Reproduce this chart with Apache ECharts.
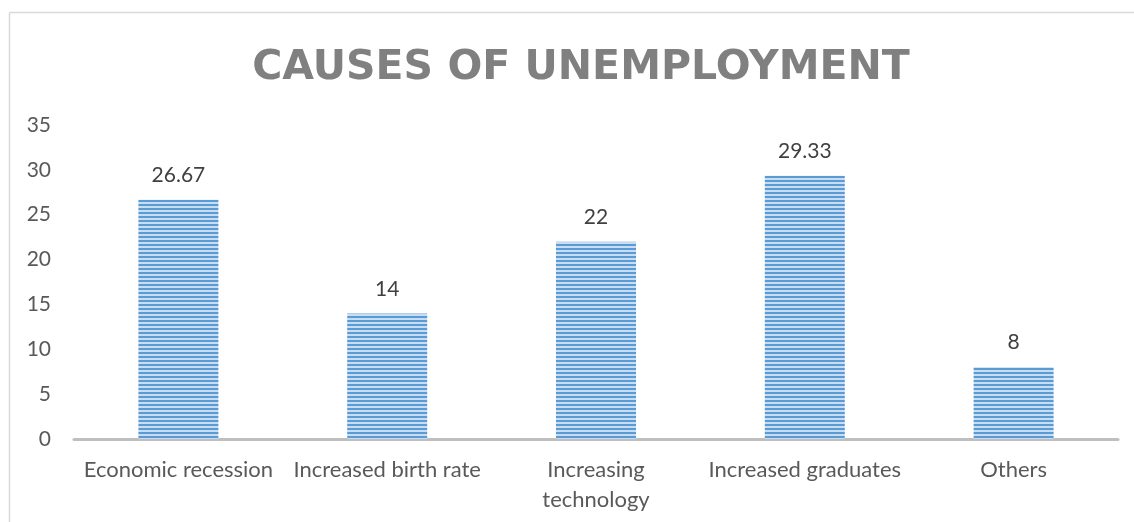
<!DOCTYPE html>
<html><head><meta charset="utf-8">
<script src="https://cdn.jsdelivr.net/npm/echarts@6/dist/echarts.min.js"></script>
<style>html,body{margin:0;padding:0;background:#fff}#c{width:1134px;height:522px}</style>
</head><body><div id="c"></div>
<script>
const categories = ['Economic recession', 'Increased birth rate', 'Increasing\ntechnology', 'Increased graduates', 'Others'];
const values = [26.67, 14, 22, 29.33, 8];
const yTicks = { min: 0, max: 35, interval: 5 };
const titleText = 'CAUSES OF UNEMPLOYMENT';

const pc = document.createElement('canvas');
pc.width = 4; pc.height = 4;
const g = pc.getContext('2d');
g.fillStyle = '#c9ddf1'; g.fillRect(0, 0, 4, 4);
g.fillStyle = '#5b9bd5'; g.fillRect(0, 0, 4, 2);

const chart = echarts.init(document.getElementById('c'));
chart.setOption({
  animation: false,
  graphic: [
    { type: 'line', shape: { x1: 9.5, y1: 12.5, x2: 1140, y2: 12.5 }, style: { stroke: '#d9d9d9', lineWidth: 1.5 }, z: -1 },
    { type: 'line', shape: { x1: 9.5, y1: 12.5, x2: 9.5, y2: 530 }, style: { stroke: '#d9d9d9', lineWidth: 1.5 }, z: -1 }
  ],
  title: {
    text: titleText, left: 576, textAlign: 'center', top: 43,
    textStyle: { fontFamily: 'DejaVu Sans', fontWeight: 'bold', fontSize: 41, color: '#808080' }
  },
  grid: { left: 74, right: 16, top: 125, bottom: 83 },
  xAxis: {
    type: 'category', data: categories,
    axisLine: { lineStyle: { color: '#bfbfbf', width: 3 } },
    axisTick: { show: false },
    axisLabel: { interval: 0, margin: 16, fontFamily: 'Lato', fontSize: 22, color: '#595959', lineHeight: 30 }
  },
  yAxis: {
    type: 'value', min: yTicks.min, max: yTicks.max, interval: yTicks.interval,
    splitLine: { show: false }, axisLine: { show: false }, axisTick: { show: false },
    axisLabel: { margin: 23, fontFamily: 'Lato', fontSize: 21, color: '#595959' }
  },
  series: [{
    type: 'bar', data: values, barWidth: 80,
    itemStyle: { color: { image: pc, repeat: 'repeat' } },
    label: { show: true, position: 'top', distance: 14, fontFamily: 'Lato', fontSize: 21, color: '#404040' }
  }]
});
</script></body></html>
